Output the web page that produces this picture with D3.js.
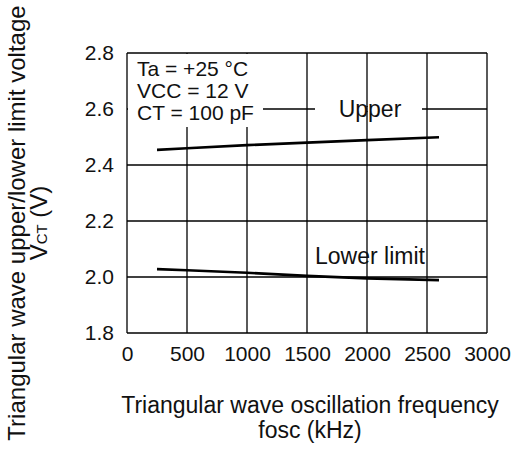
<!DOCTYPE html>
<html><head><meta charset="utf-8">
<script src="https://cdn.jsdelivr.net/npm/d3@7"></script>
<style>body{margin:0;background:#fff}svg{display:block;font-family:"Liberation Sans",Arial,sans-serif}</style>
</head><body><svg id="c" width="514" height="450"></svg>
<script>
const freq = [250, 500, 1000, 1500, 2000, 2600];
const upper = [2.454, 2.460, 2.471, 2.480, 2.489, 2.499];
const lower = [2.028, 2.024, 2.015, 2.004, 1.995, 1.989];
const xTicks = [0, 500, 1000, 1500, 2000, 2500, 3000];
const yTicks = [1.8, 2.0, 2.2, 2.4, 2.6, 2.8];
const conditions = ["Ta = +25 °C", "VCC = 12 V", "CT = 100 pF"];

const FONT = "Liberation Sans, Arial, sans-serif";
const svg = d3.select("#c");
const L = 127, R = 487, T = 53, B = 333;
const x = d3.scaleLinear().domain([0, 3000]).range([L, R]);
const y = d3.scaleLinear().domain([1.8, 2.8]).range([B, T]);

const g = svg.append("g");
g.selectAll("line.v").data(xTicks).join("line").attr("class", "v")
  .attr("x1", d => x(d)).attr("x2", d => x(d)).attr("y1", T).attr("y2", B)
  .attr("stroke", "#000").attr("stroke-width", 1.3);
g.selectAll("line.h").data(yTicks).join("line").attr("class", "h")
  .attr("y1", d => y(d)).attr("y2", d => y(d)).attr("x1", L).attr("x2", R)
  .attr("stroke", "#000").attr("stroke-width", 1.3);

const xa = svg.append("g").attr("transform", `translate(0,${B})`)
  .call(d3.axisBottom(x).tickValues(xTicks).tickSize(0).tickPadding(13).tickFormat(d3.format("d")));
xa.select(".domain").remove();
xa.selectAll("text").attr("font-size", 21).attr("font-family", FONT).attr("fill", "#111");
const ya = svg.append("g").attr("transform", `translate(${L},0)`)
  .call(d3.axisLeft(y).tickValues(yTicks).tickSize(0).tickPadding(13).tickFormat(d3.format(".1f")));
ya.select(".domain").remove();
ya.selectAll("text").attr("font-size", 21).attr("font-family", FONT).attr("fill", "#111");

// condition box
svg.append("rect").attr("x", L + 1).attr("y", T + 1).attr("width", 135).attr("height", 73).attr("fill", "#fff");
svg.selectAll("text.cond").data(conditions).join("text").attr("class", "cond")
  .attr("x", L + 10).attr("y", (d, i) => 76 + i * 22)
  .attr("font-size", 21).attr("fill", "#111").text(d => d);

// Upper label with gap in gridline
svg.append("rect").attr("x", 315).attr("y", y(2.6) - 2).attr("width", 107).attr("height", 4).attr("fill", "#fff");
svg.append("line").attr("x1", x(2000)).attr("x2", x(2000)).attr("y1", y(2.6) - 3).attr("y2", y(2.6) + 3).attr("stroke", "#000").attr("stroke-width", 1.3);
svg.append("text").attr("x", 370).attr("y", 117).attr("text-anchor", "middle").attr("font-size", 23).attr("fill", "#111").text("Upper");
svg.append("text").attr("x", 315).attr("y", 264).attr("font-size", 23).attr("fill", "#111").text("Lower limit");

const line = d3.line().x(d => x(d[0])).y(d => y(d[1]));
svg.append("path").datum(d3.zip(freq, upper)).attr("d", line).attr("fill", "none").attr("stroke", "#000").attr("stroke-width", 2.6);
svg.append("path").datum(d3.zip(freq, lower)).attr("d", line).attr("fill", "none").attr("stroke", "#000").attr("stroke-width", 2.6);

// titles
svg.append("text").attr("x", 310).attr("y", 413).attr("text-anchor", "middle").attr("font-size", 23).attr("fill", "#111").text("Triangular wave oscillation frequency");
svg.append("text").attr("x", 310).attr("y", 438).attr("text-anchor", "middle").attr("font-size", 23).attr("fill", "#111").text("fosc (kHz)");
svg.append("text").attr("transform", "translate(25,223) rotate(-90)").attr("text-anchor", "middle").attr("font-size", 24).attr("fill", "#111")
  .text("Triangular wave upper/lower limit voltage");
const yt2 = svg.append("text").attr("transform", "translate(47,223) rotate(-90)").attr("text-anchor", "middle").attr("font-size", 24).attr("fill", "#111");
yt2.append("tspan").text("V");
yt2.append("tspan").attr("font-size", 15).text("CT");
yt2.append("tspan").text(" (V)");
</script></body></html>
